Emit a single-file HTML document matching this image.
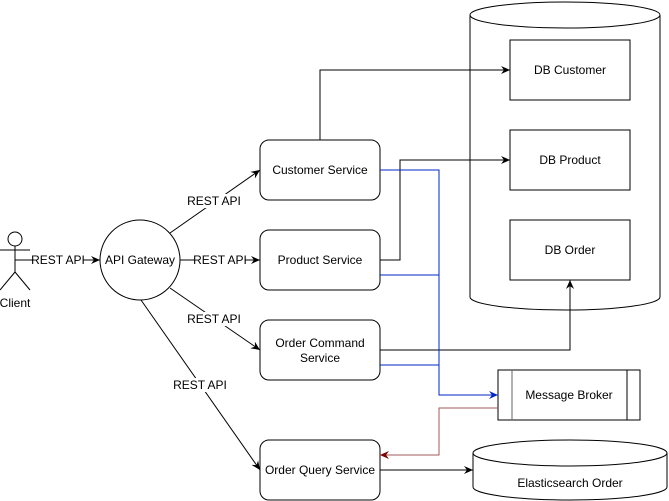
<!DOCTYPE html>
<html><head><meta charset="utf-8"><style>html,body{margin:0;padding:0;background:#fff}svg{display:block}text{font-family:"Liberation Sans",sans-serif;font-size:12px;fill:#000}</style></head><body>
<svg width="669" height="501" viewBox="0 0 669 501" xmlns="http://www.w3.org/2000/svg">
<defs>
<marker id="a" markerWidth="10" markerHeight="10" refX="9" refY="5" orient="auto" markerUnits="userSpaceOnUse"><path d="M0,1 L9,5 L0,9 L3,5 z" fill="#000"/></marker>
<marker id="b" markerWidth="10" markerHeight="10" refX="9" refY="5" orient="auto" markerUnits="userSpaceOnUse"><path d="M0,1 L9,5 L0,9 L3,5 z" fill="#0027c4"/></marker>
<marker id="r" markerWidth="10" markerHeight="10" refX="9" refY="5" orient="auto" markerUnits="userSpaceOnUse"><path d="M0,1 L9,5 L0,9 L3,5 z" fill="#800000"/></marker>
</defs>
<g fill="none" stroke="#000" stroke-width="1">
<!-- actor -->
<circle cx="15" cy="239" r="7" fill="#fff"/>
<line x1="15" y1="246" x2="15" y2="272"/>
<line x1="0" y1="250" x2="30" y2="250"/>
<line x1="15" y1="272" x2="0" y2="290"/>
<line x1="15" y1="272" x2="30" y2="290"/>
<!-- big cylinder -->
<path d="M470,15 L470,297 A95,13 0 0 0 660,297 L660,15" fill="#fff"/>
<ellipse cx="565" cy="15" rx="95" ry="13" fill="#fff"/>
<rect x="510" y="40" width="120" height="60" fill="#fff"/>
<rect x="510" y="130" width="120" height="60" fill="#fff"/>
<rect x="510" y="220" width="120" height="60" fill="#fff"/>
<!-- elasticsearch -->
<path d="M473,453 L473,487 A97,13 0 0 0 667,487 L667,453" fill="#fff"/>
<ellipse cx="570" cy="453" rx="97" ry="13" fill="#fff"/>
<!-- gateway -->
<circle cx="140" cy="260" r="40" fill="#fff"/>
<!-- services -->
<rect x="260" y="140" width="120" height="60" rx="9" fill="#fff"/>
<rect x="260" y="230" width="120" height="60" rx="9" fill="#fff"/>
<rect x="260" y="320" width="120" height="60" rx="9" fill="#fff"/>
<rect x="260" y="440" width="120" height="60" rx="9" fill="#fff"/>
<!-- broker -->
<rect x="498" y="370" width="142" height="50" fill="#fff"/>
<line x1="512" y1="370" x2="512" y2="420" stroke="#666"/>
<line x1="627" y1="370" x2="627" y2="420"/>
<!-- edges -->
<line x1="15" y1="260" x2="100" y2="260" marker-end="url(#a)"/>
<line x1="170" y1="233" x2="260" y2="170" marker-end="url(#a)"/>
<line x1="180" y1="260" x2="260" y2="260" marker-end="url(#a)"/>
<line x1="170" y1="288" x2="260" y2="350" marker-end="url(#a)"/>
<line x1="141" y1="300" x2="260" y2="470" marker-end="url(#a)"/>
<path d="M320,140 L320,70 L510,70" marker-end="url(#a)"/>
<path d="M380,260 L400,260 L400,160 L510,160" marker-end="url(#a)"/>
<path d="M380,350 L570,350 L570,280" marker-end="url(#a)"/>
<path d="M380,470 L473,470" marker-end="url(#a)"/>
<g stroke="#0027c4">
<path d="M380,170 L439,170 L439,395 L498,395" marker-end="url(#b)"/>
<path d="M380,275 L439,275"/>
<path d="M380,365 L439,365"/>
</g>
<path d="M498,408 L439,408 L439,455 L380,455" stroke="#a05a5a" marker-end="url(#r)"/>
</g>
<g text-anchor="middle">
<rect x="34" y="253" width="49" height="14" fill="#fff"/>
<text x="58" y="264">REST API</text>
<rect x="190" y="194" width="49" height="14" fill="#fff"/>
<text x="214" y="205">REST API</text>
<rect x="195" y="253" width="50" height="14" fill="#fff"/>
<text x="220" y="264">REST API</text>
<rect x="190" y="312" width="49" height="14" fill="#fff"/>
<text x="214" y="323">REST API</text>
<rect x="175" y="378" width="50" height="14" fill="#fff"/>
<text x="200" y="389">REST API</text>
<text x="15" y="307">Client</text>
<text x="140" y="264">API Gateway</text>
<text x="320" y="174">Customer Service</text>
<text x="320" y="264">Product Service</text>
<text x="320" y="347">Order Command</text>
<text x="320" y="362">Service</text>
<text x="320" y="474">Order Query Service</text>
<text x="570" y="74">DB Customer</text>
<text x="570" y="164">DB Product</text>
<text x="570" y="254">DB Order</text>
<text x="569" y="399">Message Broker</text>
<text x="570" y="487">Elasticsearch Order</text>
</g>
</svg>
</body></html>
